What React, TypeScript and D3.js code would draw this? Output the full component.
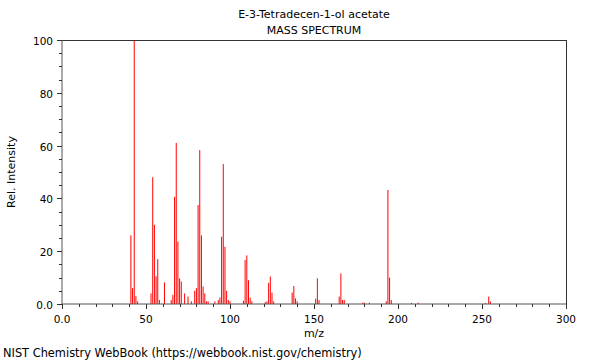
import React from "react";
import * as d3 from "d3";

const title = "E-3-Tetradecen-1-ol acetate";
const subtitle = "MASS SPECTRUM";
const xLabel = "m/z";
const yLabel = "Rel. Intensity";
const footer = "NIST Chemistry WebBook (https://webbook.nist.gov/chemistry)";

const mz = [41, 42, 43, 44, 45, 53, 54, 55, 56, 57, 58, 61, 65, 66, 67, 68, 69, 70, 71, 73, 75, 77, 79, 80, 81, 82, 83, 84, 85, 86, 87, 91, 93, 94, 95, 96, 97, 98, 99, 100, 108, 109, 110, 111, 112, 113, 121, 122, 123, 124, 125, 126, 137, 138, 139, 140, 151, 152, 153, 165, 166, 167, 168, 179, 180, 183, 193, 194, 195, 196, 208, 212, 252, 254, 255];
const intensity = [26, 6, 100, 3, 1, 4, 48, 30, 10.5, 17, 1.5, 8.2, 1.5, 3.5, 40.6, 61, 23.6, 9.7, 8.5, 4, 2.8, 1, 5, 6, 37.5, 58.3, 26, 6.6, 4, 1, 1, 1, 1.5, 2.5, 25.5, 53, 21.7, 5, 1.5, 1, 1.2, 16.7, 18.4, 9, 2.4, 1, 0.7, 1, 8, 10.4, 4.3, 1, 4.3, 6.8, 2.1, 1, 2, 9.7, 1.5, 2.8, 11.6, 1.5, 1.5, 0.5, 0.5, 0.5, 1, 43.2, 10, 1.5, 0.4, 0.5, 0.4, 2.8, 1];

const xTicks = [0, 50, 100, 150, 200, 250, 300];
const xTickLabels = ["0.0", "50", "100", "150", "200", "250", "300"];
const yTicks = [0, 20, 40, 60, 80, 100];
const yTickLabels = ["0.0", "20", "40", "60", "80", "100"];

export default function App() {
  const W = 600, H = 360;
  const left = 62, right = 566, top = 40, bottom = 304;
  const x = d3.scaleLinear().domain([0, 300]).range([left, right]);
  const y = d3.scaleLinear().domain([0, 100]).range([bottom, top]);
  const font = "DejaVu Sans, sans-serif";
  const axisColor = "#333";
  const xMinor = d3.range(0, 301, 10);
  const yMinor = d3.range(0, 101, 5);
  return (
    <svg width={W} height={H} style={{ position: "absolute", left: 0, top: 0, background: "#fff" }} fontFamily={font}>
      <text x={314} y={18} textAnchor="middle" fontSize={11} fill="#000">{title}</text>
      <text x={314} y={34} textAnchor="middle" fontSize={11} fill="#000">{subtitle}</text>
      {mz.map((m, i) => (
        <line key={i} x1={x(m)} x2={x(m)} y1={y(0)} y2={y(intensity[i])} stroke="#ff0000" strokeWidth={1} />
      ))}
      <line x1={left} x2={right + 0.5} y1={top + 0.5} y2={top + 0.5} stroke={axisColor} />
      <line x1={right + 0.5} x2={right + 0.5} y1={top} y2={bottom} stroke={axisColor} />
      <line x1={left} x2={left} y1={top} y2={bottom} stroke="#555" />
      <line x1={left} x2={right} y1={bottom} y2={bottom} stroke="#555" />
      {xMinor.map((v) => (
        <line key={"xm" + v} x1={Math.round(x(v)) + 0.5} x2={Math.round(x(v)) + 0.5} y1={bottom} y2={bottom + (v % 50 === 0 ? 5 : 3)} stroke={axisColor} />
      ))}
      {yMinor.map((v) => (
        <line key={"ym" + v} x1={left - (v % 20 === 0 ? 5 : 3)} x2={left} y1={Math.round(y(v)) + 0.5} y2={Math.round(y(v)) + 0.5} stroke={axisColor} />
      ))}
      {xTicks.map((v, i) => (
        <text key={"xt" + v} x={x(v)} y={bottom + 19} textAnchor="middle" fontSize={10.5} fill="#000">{xTickLabels[i]}</text>
      ))}
      {yTicks.map((v, i) => (
        <text key={"yt" + v} x={left - 9} y={y(v) + 5} textAnchor="end" fontSize={10.5} fill="#000">{yTickLabels[i]}</text>
      ))}
      <text x={(left + right) / 2} y={337} textAnchor="middle" fontSize={11} fill="#000">{xLabel}</text>
      <text transform={`translate(15, ${(top + bottom) / 2}) rotate(-90)`} textAnchor="middle" fontSize={11} fill="#000">{yLabel}</text>
      <text x={3} y={357} fontSize={11.4} fill="#000">{footer}</text>
    </svg>
  );
}
